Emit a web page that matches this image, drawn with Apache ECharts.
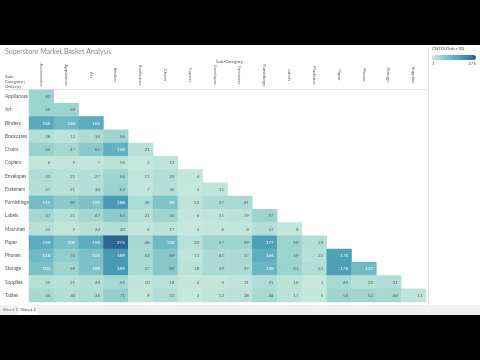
<!DOCTYPE html>
<html><head><meta charset="utf-8">
<script src="https://cdn.jsdelivr.net/npm/echarts@6/dist/echarts.min.js"></script>
<style>html,body{margin:0;padding:0;background:#000;}#c{width:480px;height:360px;}</style>
</head><body><div id="c"></div>
<script>
var columns = ['Accessories','Appliances','Art','Binders','Bookcases','Chairs','Copiers','Envelopes','Fasteners','Furnishings','Labels','Machines','Paper','Phones','Storage','Supplies'];
var rows = ['Appliances','Art','Binders','Bookcases','Chairs','Copiers','Envelopes','Fasteners','Furnishings','Labels','Machines','Paper','Phones','Storage','Supplies','Tables'];
var rAppliances = [60];
var rArt = [59, 59];
var rBinders = [155, 120, 150];
var rBookcases = [28, 12, 34, 56];
var rChairs = [64, 47, 82, 138, 21];
var rCopiers = [6, 9, 7, 16, 2, 13];
var rEnvelopes = [32, 21, 27, 54, 11, 29, 4];
var rFasteners = [27, 21, 30, 62, 7, 26, 2, 11];
var rFurnishings = [115, 80, 100, 188, 35, 99, 12, 37, 41];
var rLabels = [47, 21, 47, 82, 21, 56, 6, 11, 19, 57];
var rMachines = [22, 9, 22, 30, 6, 17, 2, 6, 8, 27, 8];
var rPaper = [150, 109, 150, 275, 48, 120, 20, 57, 59, 177, 60, 29];
var rPhones = [118, 75, 104, 189, 42, 89, 11, 41, 37, 146, 59, 22, 175];
var rStorage = [103, 56, 100, 189, 37, 89, 18, 39, 37, 128, 61, 31, 178, 117];
var rSupplies = [25, 21, 29, 43, 10, 18, 4, 5, 11, 31, 16, 1, 45, 22, 31];
var rTables = [44, 30, 36, 71, 9, 31, 2, 12, 18, 44, 17, 5, 54, 52, 48, 11];
var rowValues = [rAppliances,rArt,rBinders,rBookcases,rChairs,rCopiers,rEnvelopes,rFasteners,rFurnishings,rLabels,rMachines,rPaper,rPhones,rStorage,rSupplies,rTables];
var legendMin = 1, legendMax = 275;
var legendTitle = 'CNTD(Order ID)';

var data = [];
rowValues.forEach(function(vals, r){
  vals.forEach(function(v, c){
    data.push({value:[c, r, v], label:{color: v > 95 ? '#ffffff' : '#5a5a5a'}});
  });
});

var font = 'Lato';
var chart = echarts.init(document.getElementById('c'));
chart.setOption({
  backgroundColor: '#000',
  animation: false,
  graphic: [
    {type:'rect', shape:{x:0,y:45,width:480,height:270}, style:{fill:'#ffffff'}, z:-10},
    {type:'rect', shape:{x:0,y:305,width:480,height:10}, style:{fill:'#f0f0f0'}, z:-5},
    {type:'rect', shape:{x:18,y:305,width:19,height:10}, style:{fill:'#ffffff'}, z:-4},
    {type:'text', left:3, top:307.5, style:{text:'Sheet 1', fontSize:4.5, fill:'#666', fontFamily:font}},
    {type:'text', left:21, top:307.5, style:{text:'Sheet 2', fontSize:4.5, fill:'#333', fontFamily:font}},
    {type:'line', shape:{x1:428.5,y1:45,x2:428.5,y2:305}, style:{stroke:'#e4e4e4', lineWidth:1}},
    {type:'line', shape:{x1:5,y1:89.5,x2:427,y2:89.5}, style:{stroke:'#e4e4e4', lineWidth:1}},
    {type:'text', left:5, top:48, style:{text:'Superstore Market Basket Analysis', fontSize:7, fill:'#8a8a8a', fontFamily:font}},
    {type:'text', left:216, top:59, style:{text:'Sub-Category', fontSize:4.5, fill:'#555', fontFamily:font}},
    {type:'text', left:5, top:74, style:{text:'Sub-\nCategory |\nOrder(s)', fontSize:4.5, lineHeight:5, fill:'#555', fontFamily:font}},
    {type:'text', left:432, top:46, style:{text:legendTitle, fontSize:4.5, fill:'#555', fontFamily:font}},
    {type:'text', left:432, top:61, style:{text:String(legendMin), fontSize:4.5, fill:'#555', fontFamily:font}},
    {type:'text', right:4, top:61, style:{text:String(legendMax), fontSize:4.5, fill:'#555', fontFamily:font}}
  ],
  grid: {left:29, right:54, top:90, bottom:58},
  xAxis: {
    type:'category', data:columns, position:'top',
    axisLine:{show:false}, axisTick:{show:false}, splitLine:{show:false},
    axisLabel:{rotate:90, align:'center', margin:15, fontSize:4.5, color:'#666', fontFamily:font, interval:0}
  },
  yAxis: {
    type:'category', data:rows, inverse:true,
    axisLine:{show:false}, axisTick:{show:false}, splitLine:{show:false},
    axisLabel:{align:'left', margin:24, fontSize:4.8, color:'#555', fontFamily:font, interval:0}
  },
  visualMap: {
    type:'continuous', min:legendMin, max:legendMax, orient:'horizontal',
    left:432, top:55, itemWidth:5, itemHeight:44, calculable:false, text:null,
    padding:0,
    inRange:{color:['#c6e8dc','#94d0cc','#62b1c2','#3f91b1','#2c6592']},
    textStyle:{fontSize:1, color:'rgba(0,0,0,0)'}
  },
  series: [{
    type:'heatmap', data:data,
    itemStyle:{borderWidth:0},
    label:{show:true, align:'right', offset:[9,0], fontSize:4.5, fontFamily:font},
    emphasis:{disabled:true}
  }]
});
</script></body></html>
